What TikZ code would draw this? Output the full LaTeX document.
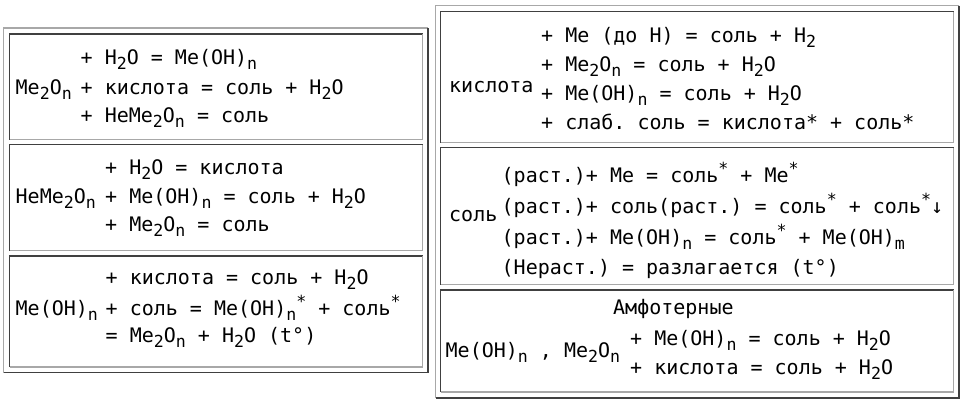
\documentclass[tikz,border=0pt]{standalone}
\usepackage{fontspec}
\newfontfamily\monof{DejaVu Sans Mono}
\frenchspacing
\definecolor{bLight}{HTML}{A8A8A8}
\definecolor{bDark}{HTML}{404040}
\newcommand\sbs[1]{\raisebox{-5pt}{\fontsize{16.6pt}{18pt}\selectfont #1}}
\newcommand\sps[1]{\raisebox{8pt}{\fontsize{16.6pt}{18pt}\selectfont #1}}
\newcommand\bevelrect[6]{%
  \draw[#5] (#1,#4) -- (#1,#2) -- (#3,#2);
  \draw[#6] (#3,#2) -- (#3,#4) -- (#1,#4);}
\begin{document}
\begin{tikzpicture}[x=1pt,y=-1pt,
  txt/.style={anchor=base west, inner sep=0pt, font=\monof\fontsize{20pt}{24pt}\selectfont},
  lite/.style={draw=bLight, line width=1.5pt},
  dark/.style={draw=bDark, line width=1.5pt}]
\useasboundingbox (0,0) rectangle (966,402);
% left table
\bevelrect{3.7}{28}{428.2}{372.7}{lite}{dark}
\bevelrect{9.7}{34}{422.5}{139.7}{dark}{lite}
\bevelrect{9.7}{144.7}{422.5}{250.7}{dark}{lite}
\bevelrect{9.7}{256}{422.5}{367}{dark}{lite}
% right table
\bevelrect{435.7}{5.7}{959}{397.8}{lite}{dark}
\bevelrect{440.7}{11.7}{953.5}{142.5}{dark}{lite}
\bevelrect{440.7}{147.7}{953.5}{284.5}{dark}{lite}
\bevelrect{440.7}{290.2}{953.5}{392}{dark}{lite}
% left cell 1
\node[txt] (l1a) at (15.5,94) {Me\sbs{2}O\sbs{n}};
\node[txt] (l1b) at (80.5,64) {+ H\sbs{2}O = Me(OH)\sbs{n}};
\node[txt] (l1c) at (80.5,94) {+ кислота = соль + H\sbs{2}O};
\node[txt] (l1d) at (80.5,122) {+ НеMe\sbs{2}O\sbs{n} = соль};
% left cell 2
\node[txt] (l2a) at (15.5,203) {НеMe\sbs{2}O\sbs{n}};
\node[txt] (l2b) at (105,174) {+ H\sbs{2}O = кислота};
\node[txt] (l2c) at (105,203) {+ Me(OH)\sbs{n} = соль + H\sbs{2}O};
\node[txt] (l2d) at (105,231) {+ Me\sbs{2}O\sbs{n} = соль};
% left cell 3
\node[txt] (l3a) at (15.5,315) {Me(OH)\sbs{n}};
\node[txt] (l3b) at (105.5,284) {+ кислота = соль + H\sbs{2}O};
\node[txt] (l3c) at (105.5,315) {+ соль = Me(OH)\sbs{n}\sps{*} + соль\sps{*}};
\node[txt] (l3d) at (105.5,342) {= Me\sbs{2}O\sbs{n} + H\sbs{2}O (t°)};
% right cell 1
\node[txt] (r1a) at (449,92) {кислота};
\node[txt] (r1b) at (541,42) {+ Me (до H) = соль + H\sbs{2}};
\node[txt] (r1c) at (541,71) {+ Me\sbs{2}O\sbs{n} = соль + H\sbs{2}O};
\node[txt] (r1d) at (541,100) {+ Me(OH)\sbs{n} = соль + H\sbs{2}O};
\node[txt] (r1e) at (541,129.5) {+ слаб. соль = кислота* + соль*};
% right cell 2
\node[txt] (r2a) at (449,221) {соль};
\node[txt] (r2b) at (501.5,182) {(раст.)+ Me = соль\sps{*} + Me\sps{*}};
\node[txt] (r2c) at (501.5,213) {(раст.)+ соль(раст.) = соль\sps{*} + соль\sps{*}↓};
\node[txt] (r2d) at (501.5,244) {(раст.)+ Me(OH)\sbs{n} = соль\sps{*} + Me(OH)\sbs{m}};
\node[txt] (r2e) at (501.5,274) {(Нераст.) = разлагается (t°)};
% right cell 3
\node[txt] (r3a) at (613,314) {Амфотерные};
\node[txt] (r3b) at (445.5,357) {Me(OH)\sbs{n} , Me\sbs{2}O\sbs{n}};
\node[txt] (r3c) at (630,345) {+ Me(OH)\sbs{n} = соль + H\sbs{2}O};
\node[txt] (r3d) at (630,374) {+ кислота = соль + H\sbs{2}O};
\end{tikzpicture}
\end{document}
